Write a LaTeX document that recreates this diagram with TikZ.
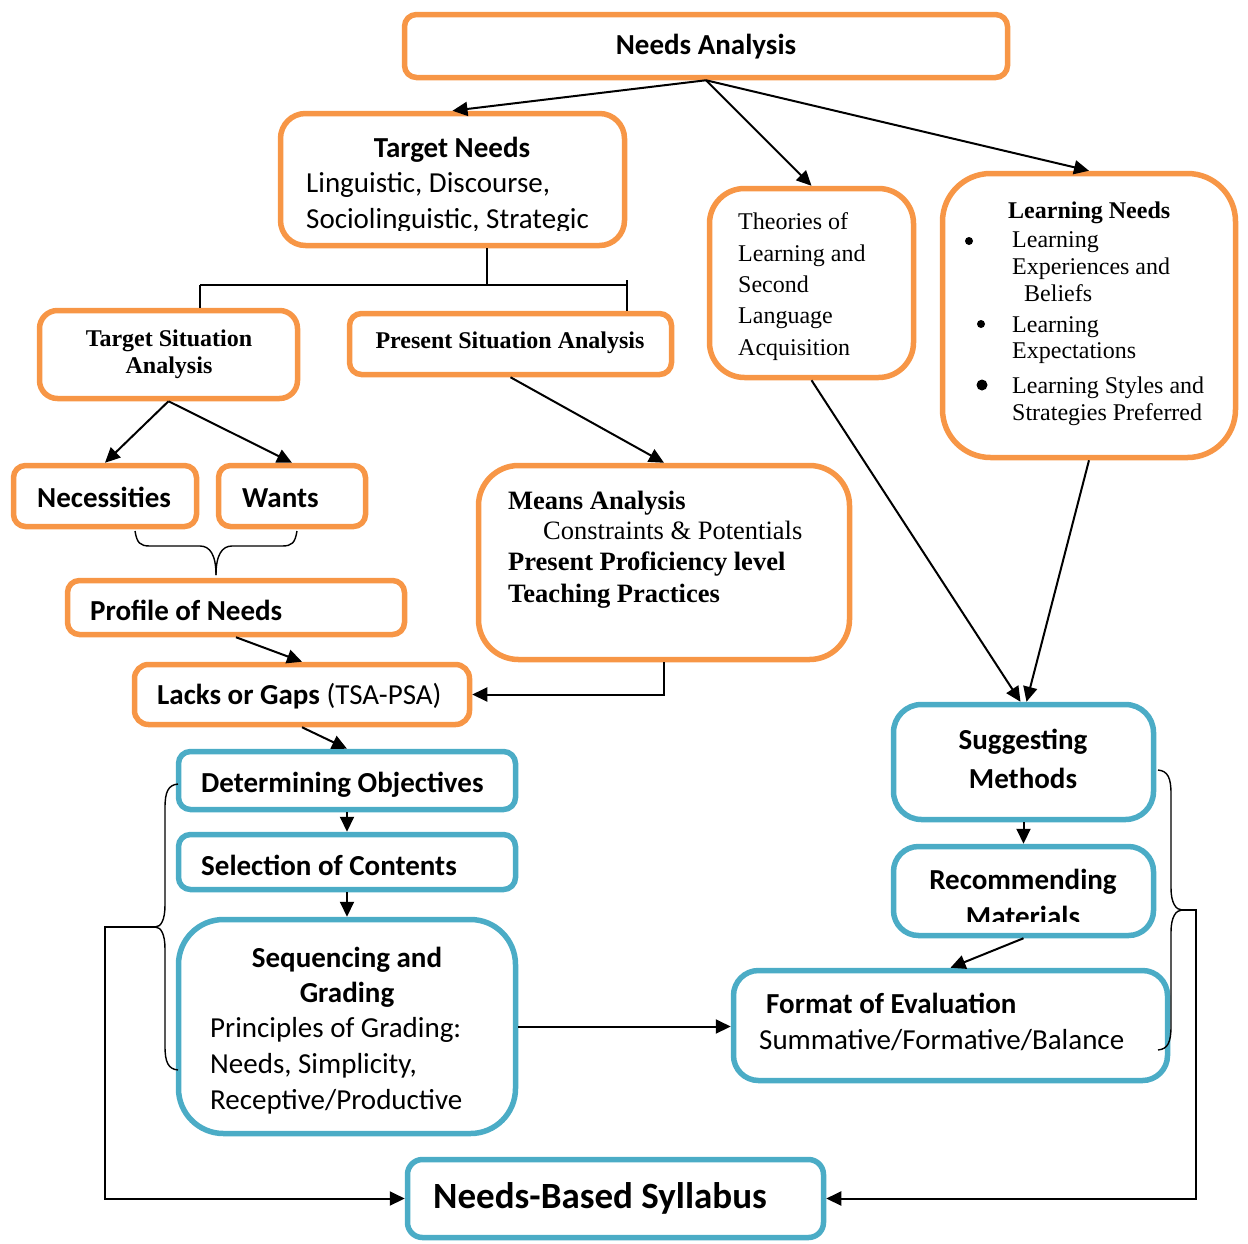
\documentclass[tikz,border=0pt]{standalone}
\usepackage{fontspec}
\setmainfont{Carlito}
\newfontfamily\tnr{Liberation Serif}
\usetikzlibrary{arrows.meta}
\definecolor{orng}{HTML}{F79646}
\definecolor{blu}{HTML}{4BACC6}
\begin{document}
\begin{tikzpicture}[x=1pt,y=-1pt,
  obox/.style={draw=orng, line width=5.5pt, rectangle, inner sep=0pt},
  bbox/.style={draw=blu, line width=5.5pt, rectangle, inner sep=0pt},
  cal/.style={font=\fontsize{29}{35}\selectfont, inner sep=0pt, anchor=base west},
  calb/.style={font=\fontsize{29}{35}\selectfont\bfseries, inner sep=0pt, anchor=base west},
  trm/.style={font=\tnr\fontsize{24}{28}\selectfont, inner sep=0pt, anchor=base west},
  trb/.style={font=\tnr\fontsize{24}{28}\selectfont\bfseries, inner sep=0pt, anchor=base west},
  mrm/.style={font=\tnr\fontsize{26.5}{30}\selectfont, inner sep=0pt, anchor=base west},
  mrb/.style={font=\tnr\fontsize{26.5}{30}\selectfont\bfseries, inner sep=0pt, anchor=base west},
  conn/.style={line width=2pt},
  arr/.style={line width=2pt, -{Triangle[length=15pt,width=14pt]}},
  brace/.style={line width=1.4pt},
]
\useasboundingbox (0,0) rectangle (1248,1243);

% ---------- boxes ----------
\node[obox, rounded corners=12pt, minimum width=603pt, minimum height=63pt] (na) at (706,46) {};
\node[obox, rounded corners=25pt, minimum width=344pt, minimum height=132pt] (tn) at (452.5,179.5) {};
\node[obox, rounded corners=35pt, minimum width=204pt, minimum height=189pt] (th) at (811.5,283) {};
\node[obox, rounded corners=48pt, minimum width=293pt, minimum height=284pt] (ln) at (1089,315.5) {};
\node[obox, rounded corners=18pt, minimum width=258pt, minimum height=88pt] (tsa) at (168.5,354.5) {};
\node[obox, rounded corners=12pt, minimum width=322pt, minimum height=61pt] (psa) at (510.5,344) {};
\node[obox, rounded corners=12pt, minimum width=183pt, minimum height=61pt] (nec) at (105,496) {};
\node[obox, rounded corners=12pt, minimum width=147pt, minimum height=61pt] (wan) at (292,496) {};
\node[obox, rounded corners=12pt, minimum width=337pt, minimum height=54pt] (pro) at (236,607.5) {};
\node[obox, rounded corners=14pt, minimum width=335pt, minimum height=60pt] (lac) at (302,694.5) {};
\node[obox, rounded corners=40pt, minimum width=371pt, minimum height=194pt] (mea) at (664,562.5) {};
\node[bbox, rounded corners=12pt, minimum width=337pt, minimum height=58pt] (det) at (347,780.5) {};
\node[bbox, rounded corners=12pt, minimum width=337pt, minimum height=55pt] (sel) at (347,862) {};
\node[bbox, rounded corners=45pt, minimum width=337pt, minimum height=214pt] (seq) at (347,1026.5) {};
\node[bbox, rounded corners=28pt, minimum width=260pt, minimum height=115pt] (sug) at (1023.5,762) {};
\node[bbox, rounded corners=25pt, minimum width=260pt, minimum height=89pt] (rec) at (1023.5,891) {};
\node[bbox, rounded corners=25pt, minimum width=434pt, minimum height=110pt] (fmt) at (950.5,1025.5) {};
\node[bbox, rounded corners=15pt, minimum width=416pt, minimum height=78pt] (nbs) at (615.5,1198.5) {};

% ---------- texts ----------
\node[calb, anchor=base] (na-t) at (706,54) {Needs Analysis};

\node[calb, anchor=base] (tn-t) at (452,157) {Target Needs};
\node[cal] (tn-a) at (306,192) {Linguistic, Discourse,};
\begin{scope}
  \clip (280,150) rectangle (640,230);
  \node[cal] (tn-b) at (306,228) {Sociolinguistic, Strategic};
\end{scope}

\node[trm] (th-a) at (738,229) {Theories of};
\node[trm] (th-b) at (738,261) {Learning and};
\node[trm] (th-c) at (738,292) {Second};
\node[trm] (th-d) at (738,323) {Language};
\node[trm] (th-e) at (738,355) {Acquisition};

% learning needs list with its bullets
\node[trb] (ln-t) at (1008,218) {Learning Needs};
\fill (969,241) circle (4);
\node[trm] (ln-a) at (1012,247) {Learning};
\node[trm] (ln-b) at (1012,274) {Experiences and};
\node[trm] (ln-c) at (1024,301) {Beliefs};
\fill (981,324) circle (4);
\node[trm] (ln-d) at (1012,332) {Learning};
\node[trm] (ln-e) at (1012,358) {Expectations};
\fill (982,385) circle (5.5);
\node[trm] (ln-f) at (1012,393) {Learning Styles and};
\node[trm] (ln-g) at (1012,420) {Strategies Preferred};

\node[trb, anchor=base] (tsa-a) at (169,346) {Target Situation};
\node[trb, anchor=base] (tsa-b) at (169,373) {Analysis};
\node[trb, anchor=base] (psa-t) at (510,348) {Present Situation Analysis};

\node[calb] (nec-t) at (37,507) {Necessities};
\node[calb] (wan-t) at (242,507) {Wants};
\node[calb] (pro-t) at (90,620) {Profile of Needs};
\node[cal] (lac-t) at (157,704) {\bfseries Lacks or Gaps\mdseries{} (TSA-PSA)};

\node[mrb] (mea-a) at (508,509) {Means Analysis};
\node[mrm] (mea-b) at (543,539) {Constraints \& Potentials};
\node[mrb] (mea-c) at (508,570) {Present Proficiency level};
\node[mrb] (mea-d) at (508,602) {Teaching Practices};

\node[calb] (det-t) at (201,792) {Determining Objectives};
\node[calb] (sel-t) at (201,875) {Selection of Contents};
\node[calb, anchor=base] (seq-a) at (347,967) {Sequencing and};
\node[calb, anchor=base] (seq-b) at (347,1002) {Grading};
\node[cal] (seq-c) at (210,1037) {Principles of Grading:};
\node[cal] (seq-d) at (210,1073) {Needs, Simplicity,};
\node[cal] (seq-e) at (210,1109) {Receptive/Productive};

\node[calb, anchor=base] (sug-a) at (1023,749) {Suggesting};
\node[calb, anchor=base] (sug-b) at (1023,788) {Methods};
\node[calb, anchor=base] (rec-a) at (1023,889) {Recommending};
\begin{scope}
  \clip (900,895) rectangle (1150,921);
  \node[calb, anchor=base] (rec-b) at (1023,926) {Materials};
\end{scope}

\node[calb] (fmt-a) at (766,1013) {Format of Evaluation};
\node[cal] (fmt-b) at (759,1049) {Summative/Formative/Balance};

\node[font=\fontsize{37}{42}\selectfont\bfseries, inner sep=0pt, anchor=base west] (nbs-t) at (433,1208) {Needs-Based Syllabus};

% ---------- connectors ----------
\draw[arr] (na.south) -- (tn.north);
\draw[arr] (na.south) -- (th.north);
\draw[arr] (na.south) -- (ln.north);

\coordinate (tnj) at (487,285);
\coordinate (tl) at (200,285);
\coordinate (tr) at (627,285);
\draw[conn] (tnj |- tn.south) -- (tnj);
\draw[conn] (tl) -- (tr);
\draw[conn] (tl) -- (tl |- tsa.north);
\draw[conn] ([yshift=5pt]tr) -- (tr |- psa.north);

\draw[arr] (tsa.south) -- (nec.north);
\draw[arr] (tsa.south) -- (wan.north);
\draw[arr] (psa.south) -- (mea.north);
\draw[arr] (pro.south) -- (lac.north);
\draw[arr] (mea.south) |- (lac.east);
\draw[arr] (lac.south) -- (det.north);
\draw[arr] (det.south) -- (sel.north);
\draw[arr] (sel.south) -- (seq.north);
\draw[arr] (th.south) -- ([xshift=-3pt]sug.north);
\draw[arr] (ln.south) -- ([xshift=3pt]sug.north);
\draw[arr] (sug.south) -- (rec.north);
\draw[arr] (rec.south) -- (fmt.north);
\draw[arr] (seq.east) -- (seq.east -| fmt.west);

% brace joining Necessities and Wants into the profile
\coordinate (ub) at (216,575);
\draw[brace] (135,531) .. controls (137,543) and (140,546) .. (150,546) -- (200,546)
             .. controls (210,546) and (216,555) .. (ub);
\draw[brace] (297,531) .. controls (295,543) and (292,546) .. (282,546) -- (232,546)
             .. controls (222,546) and (216,555) .. (ub);

% left brace around the objectives / contents / grading steps
\coordinate (lb) at (155,927);
\draw[brace] (178,784) .. controls (168,785) and (165,792) .. (165,808) -- (165,905)
             .. controls (165,920) and (161,927) .. (lb);
\draw[brace] (178,1070) .. controls (168,1069) and (165,1062) .. (165,1046) -- (165,949)
             .. controls (165,934) and (161,927) .. (lb);
\draw[arr] (lb) -- (105,927) |- (nbs.west);

% right brace around methods / materials / evaluation
\coordinate (rb) at (1182,910);
\draw[brace] (1158,770) .. controls (1168,771) and (1171,778) .. (1171,794) -- (1171,888)
             .. controls (1171,903) and (1176,910) .. (rb);
\draw[brace] (1158,1050) .. controls (1168,1049) and (1171,1042) .. (1171,1026) -- (1171,932)
             .. controls (1171,917) and (1176,910) .. (rb);
\draw[arr] (rb) -- (1196,910) |- (nbs.east);

\end{tikzpicture}
\end{document}
